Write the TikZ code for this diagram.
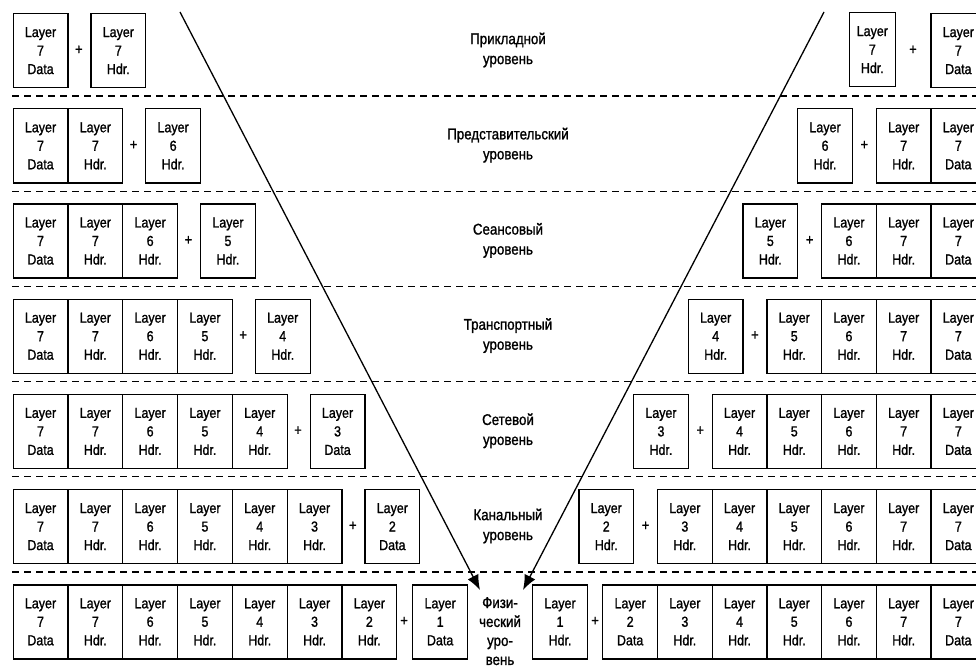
\documentclass[tikz,border=0pt]{standalone}
\usepackage{fontspec}
\setmainfont{Liberation Sans}[FakeStretch=0.86,FakeBold=1.2]
\usetikzlibrary{arrows.meta}

\newcommand\pktfont{\fontsize{14.5}{18.5}\selectfont}
\newcommand\lvlfont{\fontsize{15.5}{20}\selectfont}

\tikzset{
  pkt/.style={draw, line width=1.3pt, minimum width=54.8pt, minimum height=74pt,
    anchor=north west, inner sep=0pt, align=center, font=\pktfont},
  plus/.style={inner sep=0pt, font=\fontsize{15}{15}\selectfont},
  lvl/.style={align=center, inner sep=0pt, font=\lvlfont},
  sep/.style={line width=1.3pt, dash pattern=on 7pt off 5pt},
  flow/.style={line width=1.3pt, -{Latex[length=15pt,width=12pt]}}
}

\begin{document}
\begin{tikzpicture}[x=1pt,y=-1pt]
\useasboundingbox (0,0) rectangle (976,671);
\clip (0,0) rectangle (976,671);
\fill[white] (0,0) rectangle (976,671);

% layer separators
\foreach \k in {0,...,5}
  \draw[sep] (12,{96+95.2*\k}) -- (976,{96+95.2*\k});

% sending side: accumulated packet
\foreach \k in {0,...,6}{
  \pgfmathsetmacro\ytop{13+95.2*\k}
  \foreach \n/\t [count=\i from 0] in {7/Data,7/Hdr.,6/Hdr.,5/Hdr.,4/Hdr.,3/Hdr.,2/Hdr.}{
    \ifnum\i>\k\relax\else
      \node[pkt] (L\k-\i) at ({12.5+54.8*\i},\ytop) {Layer\\\n\\\t};
    \fi
  }
}
% sending side: part added at each layer
\foreach \n/\t [count=\k from 0] in {7/Hdr.,6/Hdr.,5/Hdr.,4/Hdr.,3/Data,2/Data,1/Data}{
  \pgfmathsetmacro\ytop{13+95.2*\k}
  \pgfmathsetmacro\gap{\k==6 ? 16 : 23}
  \pgfmathsetmacro\xend{12.5+54.8*(\k+1)}
  \node[plus] (LP\k) at ({\xend+\gap/2},{\ytop+37}) {+};
  \node[pkt] (LA\k) at ({\xend+\gap},\ytop) {Layer\\\n\\\t};
}

% receiving side: remaining packet
\foreach \k in {0,...,6}{
  \pgfmathsetmacro\ytop{13+95.2*\k}
  \foreach \n/\t [count=\i from 0] in {2/Data,3/Hdr.,4/Hdr.,5/Hdr.,6/Hdr.,7/Hdr.,7/Data}{
    \pgfmathtruncatemacro\first{6-\k}
    \ifnum\i<\first\relax\else
      \node[pkt] (R\k-\i) at ({985-54.7*(7-\i)},\ytop) {Layer\\\n\\\t};
    \fi
  }
}
% receiving side: header stripped at each layer
\foreach \k in {1,...,6}{
  \pgfmathsetmacro\ytop{13+95.2*\k}
  \pgfmathsetmacro\gap{\k==6 ? 14 : 22.5}
  \pgfmathsetmacro\xstart{985-54.7*(\k+1)}
  \pgfmathtruncatemacro\num{7-\k}
  \node[plus] (RP\k) at ({\xstart-\gap/2},{\ytop+37}) {+};
  \node[pkt, anchor=north east] (RA\k) at ({\xstart-\gap},\ytop) {Layer\\\num\\Hdr.};
}
\node[plus] (RP0) at (913,50) {+};
\node[pkt, anchor=north east, minimum width=46pt] (RA0) at (896,12) {Layer\\7\\Hdr.};

% layer names
\node[lvl] (N0) at (508,{50+95.2*0}) {Прикладной\\уровень};
\node[lvl] (N1) at (508,{50+95.2*1}) {Представительский\\уровень};
\node[lvl] (N2) at (508,{50+95.2*2}) {Сеансовый\\уровень};
\node[lvl] (N3) at (508,{50+95.2*3}) {Транспортный\\уровень};
\node[lvl] (N4) at (508,{50+95.2*4}) {Сетевой\\уровень};
\node[lvl] (N5) at (508,{50+95.2*5}) {Канальный\\уровень};
\node[lvl, anchor=north, font=\fontsize{15.5}{19}\selectfont] (N6) at (500,597) {Физи-\\ческий\\уро-\\вень};

% path down through the stack and back up
\coordinate (srcL) at (180,12);
\coordinate (dstL) at (480,590);
\coordinate (srcR) at (824,12);
\coordinate (dstR) at (523,590);
\draw[flow] (srcL) -- (dstL);
\draw[flow] (srcR) -- (dstR);
\end{tikzpicture}
\end{document}
